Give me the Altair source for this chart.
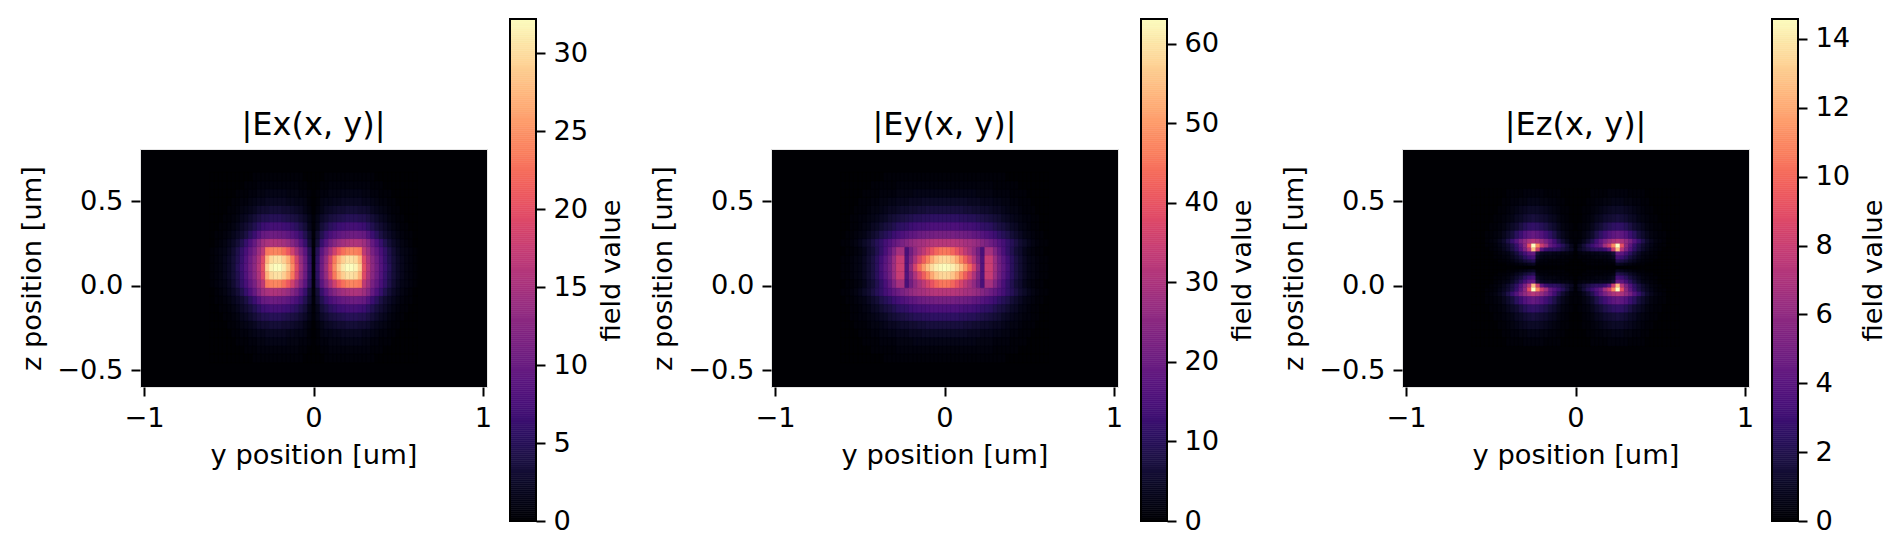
import altair as alt
import pandas as pd

# Column centres: 0, 0.025, ... 0.6 um; the picture is mirror-symmetric about y=0 and about its centre row.
COL_STEP = 0.025
Z_CENTRE = 0.1085
MAXES = [32.2, 63.1, 14.58]
TITLES = ["|Ex(x, y)|", "|Ey(x, y)|", "|Ez(x, y)|"]
TICKS = [[0, 5, 10, 15, 20, 25, 30], [0, 10, 20, 30, 40, 50, 60], [0, 2, 4, 6, 8, 10, 12, 14]]

# Distance of row edges from the centre row (um)
EDGES_UNIFORM = [0, 0.0245, 0.0735, 0.1225, 0.1715, 0.2205, 0.2695, 0.3185, 0.3675, 0.4165, 0.4655, 0.5145, 0.5635]
EDGES_EZ = [0, 0.012, 0.030, 0.049, 0.073, 0.097, 0.120, 0.144, 0.172, 0.221, 0.269, 0.318, 0.368, 0.417, 0.466]

# Values in percent of each panel's maximum, one row per band, centre row first.
EX = [
    [1,18,32,44,60,76,88,96,100,100,98,90,62,50,40,33,26,20,15,10,7,5,3,2,1],
    [1,17,31,42,57,72,83,90,94,94,92,84,60,48,39,32,25,19,14,10,7,5,3,2,1],
    [1,15,27,36,46,56,64,70,74,75,74,72,52,44,35,29,23,18,13,9,6,4,3,2,1],
    [1,10,19,26,33,38,42,45,47,48,48,47,44,38,30,24,19,14,10,7,5,3,2,1,0],
    [1,8,14,19,23,26,28,30,31,32,32,31,30,25,20,16,12,9,7,5,3,2,1,1,0],
    [1,5,10,13,16,18,20,21,22,22,22,21,20,17,14,11,9,7,5,3,2,1,1,0,0],
    [1,4,7,9,11,12,13,14,15,15,15,14,14,12,10,8,6,5,3,2,1,1,0,0,0],
    [0,2,4,6,7,8,9,9,10,10,10,9,9,8,6,5,4,3,2,1,1,0,0,0,0],
    [0,1,3,4,4,5,5,6,6,6,6,6,5,5,4,3,2,2,1,1,0,0,0,0,0],
    [0,1,2,2,3,3,3,4,4,4,4,4,3,3,2,2,1,1,1,0,0,0,0,0,0],
    [0,0,1,1,2,2,2,2,2,2,2,2,2,2,1,1,1,0,0,0,0,0,0,0,0],
    [0,0,0,1,1,1,1,1,1,1,1,1,1,1,1,0,0,0,0,0,0,0,0,0,0],
]
EY = [
    [100,99,97,93,87,79,69,57,42,25,55,55,44,34,28,22,16,12,9,6,4,3,2,1,1],
    [92,91,88,82,74,66,58,48,37,25,54,54,43,33,27,21,16,12,9,6,4,3,2,1,1],
    [72,71,68,63,58,52,47,41,33,23,46,46,37,29,23,18,14,10,8,5,3,2,1,1,0],
    [50,50,50,49,48,46,45,43,41,38,35,32,29,25,22,18,15,12,9,7,5,3,2,1,1],
    [34,34,34,33,33,32,31,29,28,26,24,22,20,17,15,13,10,8,6,4,3,2,1,1,0],
    [24,24,24,24,23,22,22,21,20,18,17,16,14,12,11,9,7,6,4,3,2,1,1,0,0],
    [17,17,17,17,16,16,15,15,14,13,12,11,10,9,7,6,5,4,3,2,2,1,1,0,0],
    [11,11,11,11,11,10,10,9,9,8,8,7,6,6,5,4,3,3,2,1,1,1,0,0,0],
    [7,7,7,7,7,7,6,6,6,5,5,5,4,4,3,3,2,2,1,1,1,0,0,0,0],
    [4,4,4,4,4,4,4,4,3,3,3,3,2,2,2,2,1,1,1,1,0,0,0,0,0],
    [2,2,2,2,2,2,2,2,2,2,2,2,1,1,1,1,1,1,0,0,0,0,0,0,0],
    [1,1,1,1,1,1,1,1,1,1,1,1,1,1,1,0,0,0,0,0,0,0,0,0,0],
]
EZ = [
    [0,0,0,0,0,0,0,0,0,0,0,0,0,0,0,0,0,0,0,0,0,0,0,0,0],
    [0,0,0,1,1,1,1,1,1,1,6,5,4,3,2,1,1,0,0,0,0,0,0,0,0],
    [0,0,1,1,1,1,1,2,2,3,14,12,10,7,5,3,2,1,1,0,0,0,0,0,0],
    [0,1,1,2,2,3,3,3,4,6,22,20,16,11,8,5,3,2,1,1,0,0,0,0,0],
    [0,2,3,3,4,4,5,5,6,10,30,28,22,16,11,7,4,3,2,1,0,0,0,0,0],
    [1,6,9,12,15,17,17,20,28,55,86,50,36,25,17,12,8,5,3,2,1,0,0,0,0],
    [1,5,10,15,20,25,30,45,55,75,100,62,40,28,19,13,9,6,4,2,1,1,0,0,0],
    [1,2,5,9,14,21,28,35,42,47,50,47,41,34,26,19,13,8,5,3,2,1,0,0,0],
    [1,1,3,5,8,13,17,21,25,28,30,28,25,20,16,11,8,5,3,2,1,1,0,0,0],
    [0,1,2,3,5,8,10,13,15,17,18,17,15,12,9,7,5,3,2,1,1,0,0,0,0],
    [0,0,1,2,3,5,6,8,9,10,11,10,9,7,6,4,3,2,1,1,0,0,0,0,0],
    [0,0,1,1,2,3,4,5,6,7,7,7,6,5,4,3,2,1,1,0,0,0,0,0,0],
    [0,0,0,1,1,2,2,3,3,4,4,4,3,3,2,2,1,1,0,0,0,0,0,0,0],
    [0,0,0,0,1,1,1,1,2,2,2,2,2,1,1,1,1,0,0,0,0,0,0,0,0],
]
TABLES = [(EX, EDGES_UNIFORM), (EY, EDGES_UNIFORM), (EZ, EDGES_EZ)]

X_DOMAIN = [-1.024, 1.024]
Z_DOMAIN = [-0.60, 0.811]
PLOT_W, PLOT_H = 347, 238
BAR_W, BAR_H = 26, 502
GAP = 23
BETWEEN = 235


def cells(table, edges, vmax):
    out = []
    for r, row in enumerate(table):
        lo, hi = edges[r], edges[r + 1]
        if r == 0:
            bands = [(Z_CENTRE - hi, Z_CENTRE + hi)]
        else:
            bands = [(Z_CENTRE + lo, Z_CENTRE + hi), (Z_CENTRE - hi, Z_CENTRE - lo)]
        for z0, z1 in bands:
            for k, pct in enumerate(row):
                c = k * COL_STEP
                spans = [(c - COL_STEP / 2, c + COL_STEP / 2)] if k == 0 else [
                    (c - COL_STEP / 2, c + COL_STEP / 2),
                    (-c - COL_STEP / 2, -c + COL_STEP / 2),
                ]
                for x0, x1 in spans:
                    out.append({"x0": round(x0, 4), "x1": round(x1, 4), "z0": round(z0, 4), "z1": round(z1, 4),
                                "v": round(pct * vmax / 100, 3)})
    return pd.DataFrame(out)


def heat(i):
    table, edges = TABLES[i]
    vmax = MAXES[i]
    return (
        alt.Chart(cells(table, edges, vmax))
        .mark_rect(strokeWidth=0.5)
        .encode(
            x=alt.X("x0:Q", scale=alt.Scale(domain=X_DOMAIN, nice=False, zero=False),
                    axis=alt.Axis(values=[-1.0, 0.0, 1.0], format=".0f", labelOverlap=False, labelFlush=False,
                                  title="y position [um]", grid=False, domain=False)),
            x2="x1:Q",
            y=alt.Y("z0:Q", scale=alt.Scale(domain=Z_DOMAIN, nice=False, zero=False),
                    axis=alt.Axis(values=[-0.5, 0, 0.5], format=".1f", title="z position [um]", grid=False, domain=False)),
            y2="z1:Q",
            color=alt.Color("v:Q", scale=alt.Scale(scheme="magma", domain=[0, vmax]), legend=None),
            stroke=alt.Stroke("v:Q", scale=alt.Scale(scheme="magma", domain=[0, vmax]), legend=None),
        )
        .properties(width=PLOT_W, height=PLOT_H,
                    title=alt.TitleParams(TITLES[i], fontSize=32, fontWeight="normal", font="DejaVu Sans", offset=7),
                    view=alt.ViewBackground(fill="#000004", stroke="#e6e6e6", strokeWidth=1))
    )


def bar(i):
    vmax = MAXES[i]
    step = vmax / 256
    y_scale = alt.Scale(domain=[0, vmax], nice=False, range=[BAR_H, 0])
    y_axis = alt.Axis(orient="right", values=TICKS[i], format="d", title="field value", titleAngle=270,
                      titleBaseline="top", grid=False, domain=False, titlePadding=10, labelOverlap=False)
    ramp = (
        alt.Chart(alt.sequence(0, vmax, step, as_="v"))
        .transform_calculate(v2=f"datum.v + {step}")
        .mark_rect(strokeWidth=0.6)
        .encode(
            y=alt.Y("v:Q", scale=y_scale, axis=y_axis),
            y2="v2:Q",
            color=alt.Color("v:Q", scale=alt.Scale(scheme="magma", domain=[0, vmax]), legend=None),
            stroke=alt.Stroke("v:Q", scale=alt.Scale(scheme="magma", domain=[0, vmax]), legend=None),
        )
    )
    frame = (
        alt.Chart(alt.Data(values=[{"lo": 0, "hi": vmax}]))
        .mark_rect(filled=False, stroke="black", strokeWidth=2)
        .encode(y=alt.Y("lo:Q", scale=y_scale, axis=y_axis), y2="hi:Q")
    )
    return alt.layer(ramp, frame).properties(
        width=BAR_W, height=BAR_H - 4, view=alt.ViewBackground(stroke="transparent"))


def spacer():
    return (
        alt.Chart(alt.Data(values=[{"a": 1}]))
        .mark_point(opacity=0)
        .encode(x=alt.value(0))
        .properties(width=BETWEEN - 2 * GAP, height=10, view=alt.ViewBackground(stroke="transparent"))
    )


panels = [heat(0), bar(0), spacer(), heat(1), bar(1), spacer(), heat(2), bar(2)]

chart = (
    alt.hconcat(*panels, spacing=GAP, bounds="flush", center=True)
    .resolve_scale(color="independent", stroke="independent")
    .properties(padding={"left": 10, "top": 9, "right": 5, "bottom": 5}, background="white")
    .configure_axis(labelFont="DejaVu Sans", titleFont="DejaVu Sans", labelFontSize=27.3, titleFontSize=27.3,
                    titleFontWeight="normal", labelColor="black", titleColor="black", tickColor="black",
                    tickSize=9, tickWidth=2, labelPadding=8, titlePadding=10)
)

chart.save("out.html", embed_options={"renderer": "svg", "actions": False})
